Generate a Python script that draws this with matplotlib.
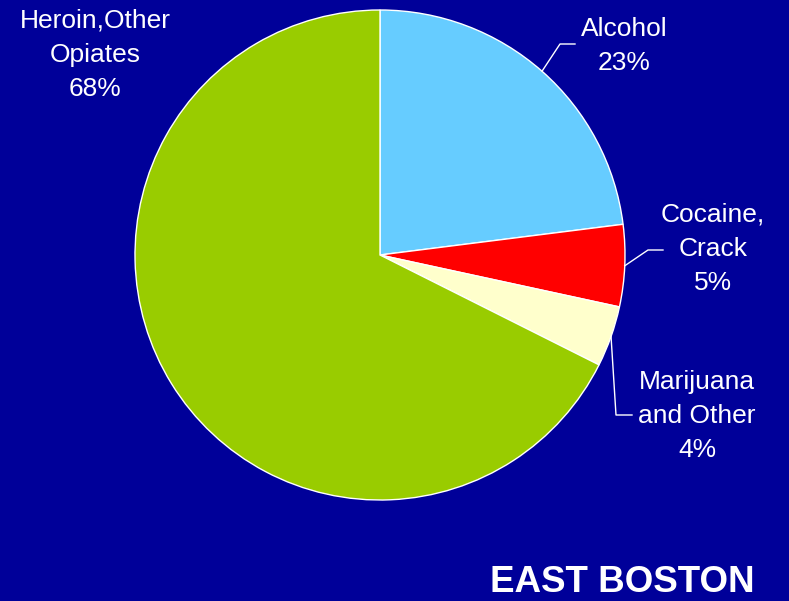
import numpy as np
import matplotlib
matplotlib.use("Agg")
import matplotlib.pyplot as plt

categories = ["Alcohol", "Cocaine,\nCrack", "Marijuana\nand Other", "Heroin,Other\nOpiates"]
values = [23.0, 5.4, 4.0, 67.6]
colors = ["#66CCFF", "#FF0000", "#FFFFCC", "#99CC00"]
title = "EAST BOSTON"

W, H = 789, 601
bg = "#000099"
fig = plt.figure(figsize=(W / 100, H / 100), dpi=100, facecolor=bg)
ax = fig.add_axes([0, 0, 1, 1])
ax.set_facecolor(bg)

cx, cy, r = 380, H - 255, 245
wedges, _ = ax.pie(values, colors=colors, startangle=90, counterclock=False,
                   center=(cx, cy), radius=r,
                   wedgeprops=dict(edgecolor="white", linewidth=1.0))
ax.set_xlim(0, W)
ax.set_ylim(0, H)
ax.set_aspect("equal")
ax.axis("off")

font = dict(family=["Liberation Sans", "DejaVu Sans"], color="white", fontsize=19)

# label positions (pixels from top) and leader line elbows
label_pos = [(624, 46), (713, 249), (697, 416), (95, 55)]
elbows = [[(560, 44), (575, 44)], [(648, 250), (663, 250)], [(616, 415), (632, 415)], None]

for w, cat, v, (lx, ly), elb in zip(wedges, categories, values, label_pos, elbows):
    ax.text(lx, H - ly, f"{cat}\n{round(v)}%", ha="center", va="center", linespacing=1.53, **font)
    if elb is not None:
        mid = np.deg2rad((w.theta1 + w.theta2) / 2)
        sx, sy = cx + r * np.cos(mid), cy + r * np.sin(mid)
        xs = [sx] + [p[0] for p in elb]
        ys = [sy] + [H - p[1] for p in elb]
        ax.plot(xs, ys, color="white", linewidth=1.0)

ax.text(622, H - 583, title, ha="center", va="center", fontsize=26.5,
        fontweight="bold", color="white", family=["Liberation Sans", "DejaVu Sans"])

fig.savefig("out.png", dpi=100, facecolor=bg)
